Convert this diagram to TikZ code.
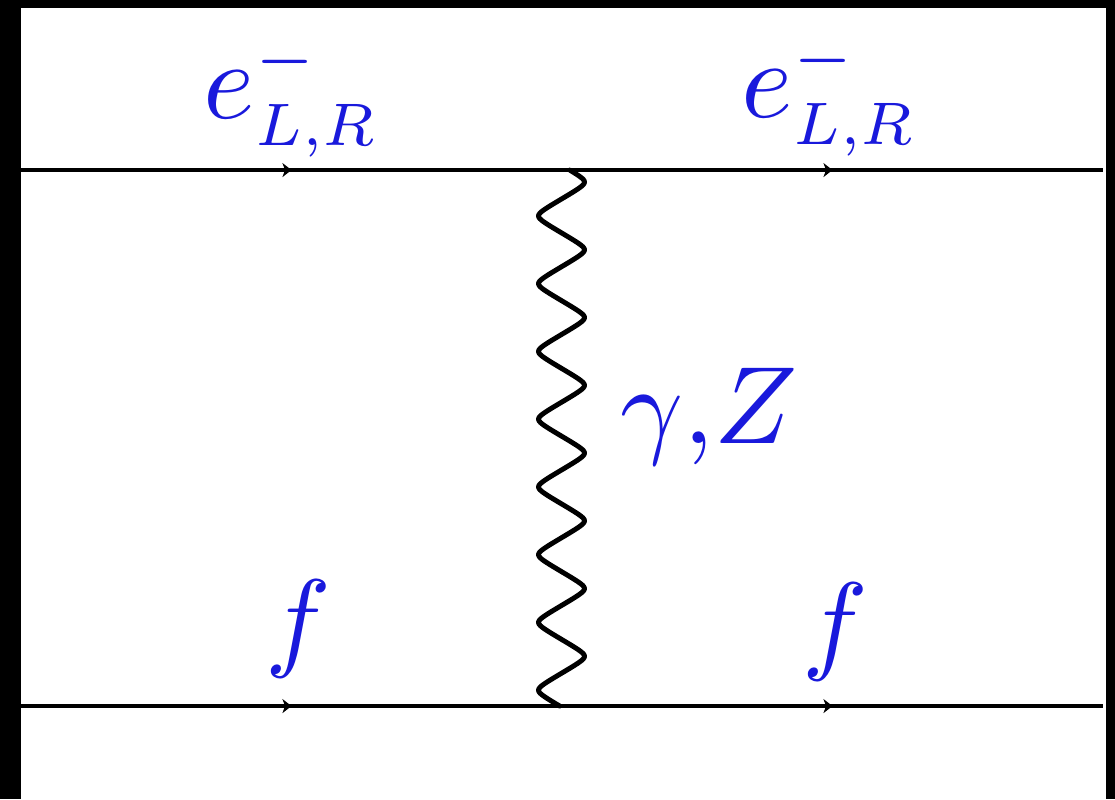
\documentclass[tikz,border=0pt]{standalone}
\usepackage{graphicx}
\usetikzlibrary{decorations.markings,arrows.meta}
\definecolor{labelblue}{RGB}{25,25,220}
\newcommand{\elab}{$e^{\scalebox{0.86}{$\scriptstyle -$}}_{\scalebox{0.78}{$\scriptstyle L,R$}}$}
\begin{document}
\begin{tikzpicture}[x=0.0909pt,y=-0.0909pt,
  fermion/.style={line width=0.41pt, postaction={decorate},
    decoration={markings, mark=at position 0.5 with {\arrow{Stealth[length=0.82pt,width=1.27pt,inset=0.23pt]}}}},
  boson/.style={line width=0.45pt, line join=round, line cap=round},
  lbl/.style={text=labelblue, font=\normalsize, inner sep=0pt, anchor=base}]
\useasboundingbox (0,0) rectangle (1115,799);
\fill[black] (0,0) rectangle (1115,799);
\fill[white] (21,8) rectangle (1106,799);

\coordinate (i1) at (21,170);
\coordinate (v1) at (562,170);
\coordinate (o1) at (1103,170);
\coordinate (i2) at (21,706);
\coordinate (v2) at (562,706);
\coordinate (o2) at (1103,706);

\draw[fermion] (i1) -- (v1);
\draw[fermion] (v1) -- (o1);
\draw[fermion] (i2) -- (v2);
\draw[fermion] (v2) -- (o2);
% photon / Z propagator from v1 down to v2
\draw[boson, shift={(v1)}] plot[domain=0:536, samples=400, smooth]
  ({-0.5 + 23*asin(0.92*sin(5.3137*(\x-12)+90))/asin(0.92)}, \x);

\node[lbl] (e1) at (292,118) {\elab};
\node[lbl] (e2) at (830,117) {\elab};
\node[lbl] (f1) at (298,656) {$f$};
\node[lbl] (f2) at (835,659) {$f$};
\node[lbl] (gz) at (709,443) {$\gamma{,}Z$};
\end{tikzpicture}
\end{document}
